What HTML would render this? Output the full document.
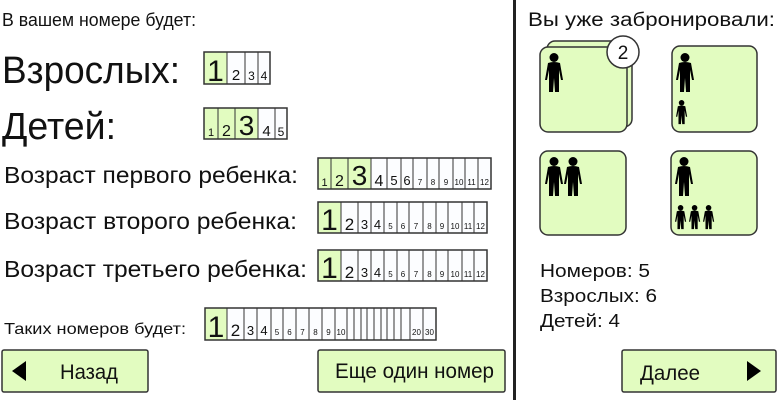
<!DOCTYPE html>
<html><head><meta charset="utf-8"><style>
html,body{margin:0;padding:0;background:#fff;}
svg{display:block;font-family:"Liberation Sans",sans-serif;}
</style></head><body>
<svg width="778" height="400" viewBox="0 0 778 400" xmlns="http://www.w3.org/2000/svg">
<defs>
<g id="p">
<circle cx="9" cy="4.5" r="4.5" fill="#000"/>
<path d="M3,10 Q9,8 15,10 L18,27 L16,27 L14,17 L14,39 L10,39 L9,25 L8,39 L4,39 L4,17 L2,27 L0,27 Z" fill="#000"/>
</g>
</defs>
<rect width="778" height="400" fill="#fff"/>
<g fill="#111">
<text x="2" y="26" font-size="18" textLength="194" lengthAdjust="spacingAndGlyphs">В вашем номере будет:</text>
<text x="2" y="83" font-size="38" textLength="178" lengthAdjust="spacingAndGlyphs">Взрослых:</text>
<text x="2" y="139" font-size="38" textLength="114" lengthAdjust="spacingAndGlyphs">Детей:</text>
<text x="4" y="183" font-size="23" textLength="294" lengthAdjust="spacingAndGlyphs">Возраст первого ребенка:</text>
<text x="4" y="229" font-size="23" textLength="293" lengthAdjust="spacingAndGlyphs">Возраст второго ребенка:</text>
<text x="4" y="277" font-size="23" textLength="303" lengthAdjust="spacingAndGlyphs">Возраст третьего ребенка:</text>
<text x="4" y="334" font-size="16" textLength="182" lengthAdjust="spacingAndGlyphs">Таких номеров будет:</text>
</g>
<g stroke="#333" stroke-width="1" fill="#111">
<rect x="204" y="52" width="66" height="32" fill="#fcfdff"/>
<rect x="204" y="52" width="23" height="32" fill="#e2fcc0"/>
<line x1="227" y1="52" x2="227" y2="84"/><line x1="245" y1="52" x2="245" y2="84"/><line x1="258" y1="52" x2="258" y2="84"/>
<rect x="204" y="52" width="66" height="32" fill="none" stroke-width="1.5"/>
<g stroke="none">
<text x="215.5" y="81" font-size="30" text-anchor="middle">1</text>
<text x="236" y="80" font-size="15" text-anchor="middle">2</text>
<text x="251.5" y="80" font-size="12" text-anchor="middle">3</text>
<text x="264" y="80" font-size="12" text-anchor="middle">4</text>
</g>
<rect x="204" y="108" width="83" height="31" fill="#fcfdff"/>
<rect x="204" y="108" width="54" height="31" fill="#e2fcc0"/>
<line x1="218" y1="108" x2="218" y2="139"/><line x1="235" y1="108" x2="235" y2="139"/><line x1="258" y1="108" x2="258" y2="139"/><line x1="275" y1="108" x2="275" y2="139"/>
<rect x="204" y="108" width="83" height="31" fill="none" stroke-width="1.5"/>
<g stroke="none">
<text x="211" y="136" font-size="11" text-anchor="middle">1</text>
<text x="226.5" y="136" font-size="16" text-anchor="middle">2</text>
<text x="246.5" y="135" font-size="28" text-anchor="middle">3</text>
<text x="266.5" y="136" font-size="15" text-anchor="middle">4</text>
<text x="281" y="136" font-size="12" text-anchor="middle">5</text>
</g>
<rect x="318" y="158" width="173" height="31" fill="#fcfdff"/>
<rect x="318" y="158" width="53" height="31" fill="#e2fcc0"/>
<g>
<line x1="331" y1="158" x2="331" y2="189"/><line x1="348" y1="158" x2="348" y2="189"/><line x1="371" y1="158" x2="371" y2="189"/><line x1="387" y1="158" x2="387" y2="189"/><line x1="401" y1="158" x2="401" y2="189"/><line x1="413" y1="158" x2="413" y2="189"/><line x1="427" y1="158" x2="427" y2="189"/><line x1="439" y1="158" x2="439" y2="189"/><line x1="453" y1="158" x2="453" y2="189"/><line x1="465" y1="158" x2="465" y2="189"/><line x1="478" y1="158" x2="478" y2="189"/>
</g>
<rect x="318" y="158" width="173" height="31" fill="none" stroke-width="1.5"/>
<g stroke="none" text-anchor="middle">
<text x="324.5" y="186" font-size="11">1</text>
<text x="339.5" y="186" font-size="16">2</text>
<text x="359.5" y="185" font-size="28">3</text>
<text x="379" y="186" font-size="16">4</text>
<text x="394" y="185" font-size="13">5</text>
<text x="407" y="185" font-size="13">6</text>
<text x="420" y="185" font-size="8">7</text>
<text x="433" y="185" font-size="8">8</text>
<text x="446" y="185" font-size="8">9</text>
<text x="459" y="185" font-size="8">10</text>
<text x="471.5" y="185" font-size="8">11</text>
<text x="484.5" y="185" font-size="8">12</text>
</g>
<g id="ag">
<rect x="318" y="202" width="169" height="31" fill="#fcfdff"/>
<rect x="318" y="202" width="23" height="31" fill="#e2fcc0"/>
<line x1="341" y1="202" x2="341" y2="233"/><line x1="358" y1="202" x2="358" y2="233"/><line x1="371" y1="202" x2="371" y2="233"/><line x1="384" y1="202" x2="384" y2="233"/><line x1="397" y1="202" x2="397" y2="233"/><line x1="409" y1="202" x2="409" y2="233"/><line x1="423" y1="202" x2="423" y2="233"/><line x1="436" y1="202" x2="436" y2="233"/><line x1="448" y1="202" x2="448" y2="233"/><line x1="462" y1="202" x2="462" y2="233"/><line x1="474" y1="202" x2="474" y2="233"/>
<rect x="318" y="202" width="169" height="31" fill="none" stroke-width="1.5"/>
<g stroke="none" text-anchor="middle">
<text x="329.5" y="230" font-size="30">1</text>
<text x="349.5" y="230" font-size="17">2</text>
<text x="364.5" y="229" font-size="13">3</text>
<text x="377.5" y="229" font-size="13">4</text>
<text x="390.5" y="229" font-size="8">5</text>
<text x="403" y="229" font-size="8">6</text>
<text x="416" y="229" font-size="8">7</text>
<text x="429.5" y="229" font-size="8">8</text>
<text x="442" y="229" font-size="8">9</text>
<text x="455" y="229" font-size="8">10</text>
<text x="468" y="229" font-size="8">11</text>
<text x="480.5" y="229" font-size="8">12</text>
</g>
</g>
<use href="#ag" y="48"/>
<rect x="205" y="308" width="231" height="32" fill="#fcfdff"/>
<rect x="205" y="308" width="22" height="32" fill="#e2fcc0"/>
<line x1="227" y1="308" x2="227" y2="340"/><line x1="244" y1="308" x2="244" y2="340"/><line x1="257" y1="308" x2="257" y2="340"/><line x1="271" y1="308" x2="271" y2="340"/><line x1="283" y1="308" x2="283" y2="340"/><line x1="296" y1="308" x2="296" y2="340"/><line x1="309" y1="308" x2="309" y2="340"/><line x1="322" y1="308" x2="322" y2="340"/><line x1="335" y1="308" x2="335" y2="340"/><line x1="347" y1="308" x2="347" y2="340"/><line x1="354" y1="308" x2="354" y2="340"/><line x1="361" y1="308" x2="361" y2="340"/><line x1="367" y1="308" x2="367" y2="340"/><line x1="374" y1="308" x2="374" y2="340"/><line x1="381" y1="308" x2="381" y2="340"/><line x1="387" y1="308" x2="387" y2="340"/><line x1="394" y1="308" x2="394" y2="340"/><line x1="401" y1="308" x2="401" y2="340"/><line x1="410" y1="308" x2="410" y2="340"/><line x1="423" y1="308" x2="423" y2="340"/>
<rect x="205" y="308" width="231" height="32" fill="none" stroke-width="1.5"/>
<g stroke="none" text-anchor="middle">
<text x="216" y="337" font-size="30">1</text>
<text x="235.5" y="336" font-size="17">2</text>
<text x="250.5" y="335" font-size="13">3</text>
<text x="264" y="335" font-size="13">4</text>
<text x="277" y="335" font-size="8">5</text>
<text x="289.5" y="335" font-size="8">6</text>
<text x="302.5" y="335" font-size="8">7</text>
<text x="315.5" y="335" font-size="8">8</text>
<text x="328.5" y="335" font-size="8">9</text>
<text x="341" y="335" font-size="8">10</text>
<text x="416.5" y="335" font-size="8">20</text>
<text x="429.5" y="335" font-size="8">30</text>
</g>
</g>
<g stroke="#333" stroke-width="1.5" fill="#e2fcc0">
<rect x="2" y="350" width="146" height="42" rx="2"/>
<rect x="318" y="350" width="187" height="42" rx="2"/>
<rect x="622" y="350" width="154" height="42" rx="2"/>
</g>
<path d="M12,371 L26,361 L26,381 Z" fill="#000"/>
<path d="M761,371 L747,361 L747,381 Z" fill="#000"/>
<g fill="#111" font-size="21">
<text x="60" y="379" textLength="58" lengthAdjust="spacingAndGlyphs">Назад</text>
<text x="335" y="378" textLength="159" lengthAdjust="spacingAndGlyphs">Еще один номер</text>
<text x="640" y="380" textLength="60" lengthAdjust="spacingAndGlyphs">Далее</text>
</g>
<rect x="513" y="0" width="3" height="400" fill="#222"/>
<text x="528" y="26" font-size="19" fill="#111" textLength="247" lengthAdjust="spacingAndGlyphs">Вы уже забронировали:</text>
<g stroke="#333" stroke-width="1.5" fill="#e2fcc0">
<rect x="547" y="41" width="85" height="86" rx="8"/>
<rect x="540" y="47" width="87" height="85" rx="8"/>
<rect x="672" y="46" width="85" height="86" rx="8"/>
<rect x="540" y="151" width="86" height="84" rx="8"/>
<rect x="671" y="151" width="86" height="84" rx="8"/>
<circle cx="623" cy="52" r="16" fill="#fff"/>
</g>
<text x="623" y="59" font-size="19" text-anchor="middle" fill="#111">2</text>
<use href="#p" x="545" y="53"/>
<use href="#p" x="676" y="53"/>
<use href="#p" transform="translate(676,100) scale(0.62)"/>
<use href="#p" x="545" y="157"/>
<use href="#p" x="564" y="157"/>
<use href="#p" x="675" y="157"/>
<use href="#p" transform="translate(675,205) scale(0.62)"/>
<use href="#p" transform="translate(689,205) scale(0.62)"/>
<use href="#p" transform="translate(703,205) scale(0.62)"/>
<g fill="#111" font-size="18">
<text x="540" y="277" textLength="110" lengthAdjust="spacingAndGlyphs">Номеров: 5</text>
<text x="540" y="302" textLength="117" lengthAdjust="spacingAndGlyphs">Взрослых: 6</text>
<text x="540" y="327" textLength="80" lengthAdjust="spacingAndGlyphs">Детей: 4</text>
</g>
</svg>
</body></html>
